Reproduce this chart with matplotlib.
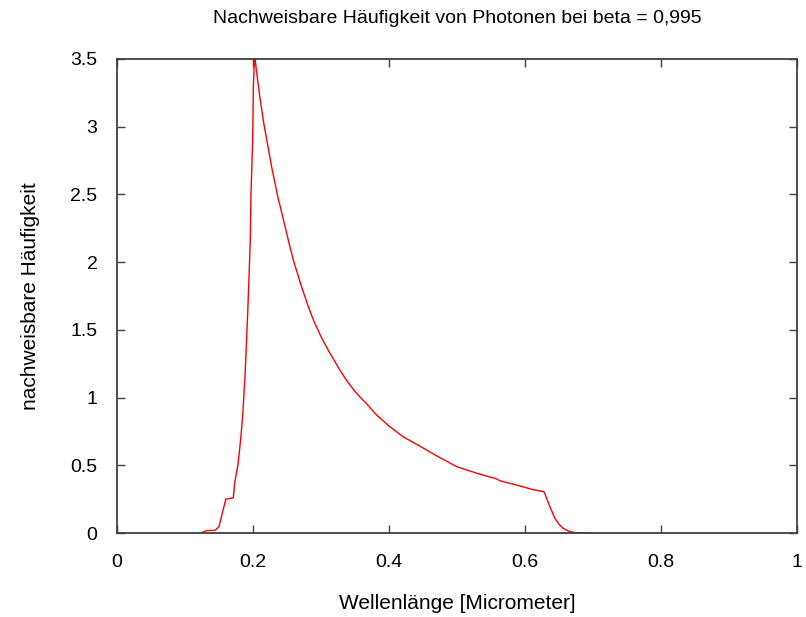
import numpy as np
import matplotlib.pyplot as plt

# Detectable photon frequency vs wavelength (beta = 0.995)
wavelength = [0.123, 0.131, 0.144, 0.150, 0.156, 0.160, 0.171, 0.173, 0.178,
              0.182, 0.185, 0.187, 0.188, 0.192, 0.196, 0.197, 0.1995, 0.2005,
              0.202, 0.203, 0.2054, 0.210, 0.216, 0.2275, 0.237, 0.2396, 0.252,
              0.259, 0.270, 0.280, 0.289, 0.300, 0.310, 0.320, 0.328, 0.340,
              0.350, 0.360, 0.367, 0.382, 0.400, 0.421, 0.446, 0.470, 0.4995,
              0.530, 0.558, 0.563, 0.593, 0.612, 0.628, 0.637, 0.644, 0.650,
              0.656, 0.665, 0.674, 0.692]
frequency = [0.0, 0.017, 0.02, 0.047, 0.17, 0.25, 0.26, 0.37, 0.51,
             0.70, 0.88, 1.06, 1.13, 1.60, 2.16, 2.50, 2.90, 3.30,
             3.49, 3.50, 3.40, 3.22, 3.02, 2.70, 2.47, 2.42, 2.16,
             2.02, 1.84, 1.69, 1.57, 1.45, 1.355, 1.27, 1.20, 1.11,
             1.045, 0.99, 0.955, 0.87, 0.79, 0.71, 0.64, 0.57, 0.49,
             0.44, 0.40, 0.386, 0.347, 0.32, 0.305, 0.19, 0.108, 0.065,
             0.035, 0.012, 0.003, 0.0]

xticks = [0, 0.2, 0.4, 0.6, 0.8, 1]
xticklabels = ["0", "0.2", "0.4", "0.6", "0.8", "1"]
yticks = [0, 0.5, 1, 1.5, 2, 2.5, 3, 3.5]
yticklabels = ["0", "0.5", "1", "1.5", "2", "2.5", "3", "3.5"]

plt.rcParams['font.family'] = ['Liberation Sans', 'DejaVu Sans']

fig = plt.figure(figsize=(8.06, 6.17), dpi=100)
ax = fig.add_axes([0.1452, 0.1361, 0.8436, 0.7683])

ax.plot(wavelength, frequency, color='red', linewidth=1.0)

ax.set_xlim(0, 1)
ax.set_ylim(0, 3.5)
ax.set_xticks(xticks)
ax.set_xticklabels(xticklabels)
ax.set_yticks(yticks)
ax.set_yticklabels(yticklabels)
ax.tick_params(direction='in', length=6, width=1, color='#404040',
               top=True, right=True, labelsize=14)
ax.tick_params(axis='x', pad=15)
ax.tick_params(axis='y', pad=14)

for spine in ax.spines.values():
    spine.set_color('#404040')
    spine.set_linewidth(1.3)

ax.set_title("Nachweisbare Häufigkeit von Photonen bei beta = 0,995",
             fontsize=14, pad=26)
ax.set_xlabel("Wellenlänge [Micrometer]", fontsize=15, labelpad=17)
ax.set_ylabel("nachweisbare Häufigkeit", fontsize=15, labelpad=22)

plt.savefig("out.png", dpi=100)
